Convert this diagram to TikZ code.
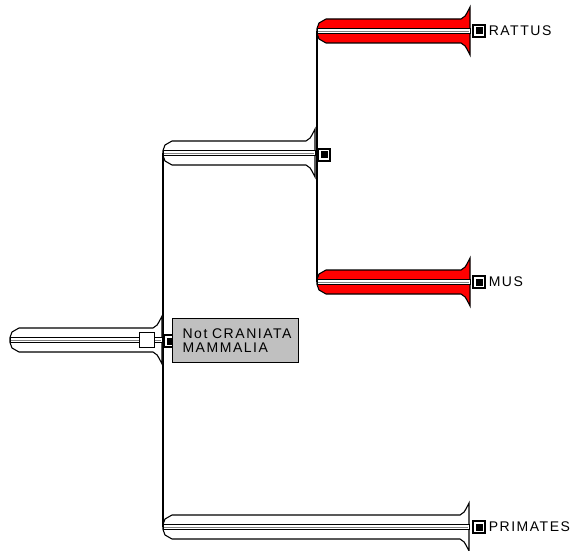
\documentclass[tikz,border=0pt]{standalone}
\usepackage{fontspec}
\setmainfont{Liberation Sans}
\usetikzlibrary{positioning}

\definecolor{taxonred}{RGB}{255,0,0}
\definecolor{panelgray}{RGB}{192,192,192}

% sword-like branch: left x, guard x, centre y, blade half height, fill
\newcommand\branch[5]{%
  \filldraw[blade, fill=#5] (#1,#3-2.5) -- (#1+2,#3-#4+4) -- (#1+9,#3-#4)
      -- (#2-9,#3-#4) .. controls (#2-5,#3-#4-2) .. (#2,#3-24)
      -- (#2,#3+24) .. controls (#2-5,#3+#4+2) .. (#2-9,#3+#4)
      -- (#1+9,#3+#4) -- (#1+2,#3+#4-4) -- (#1,#3+2.5) -- cycle;
  \filldraw[rail] (#1,#3-2.5) rectangle (#2,#3+2.5);
  \draw[gray, line width=0.8pt] (#1+1,#3) -- (#2-1,#3);
}

\begin{document}
\begin{tikzpicture}[
    x=1pt, y=-1pt,
    blade/.style={draw=black, line width=1.1pt, line join=miter},
    rail/.style={draw=black, fill=white, line width=1pt},
    link/.style={draw=black, line width=1.1pt},
    marker/.style={
        rectangle, draw=black, fill=white, line width=1.1pt,
        minimum size=12pt, inner sep=0pt,
        path picture={\fill[black] ([shift={(2.5pt,2.5pt)}]path picture bounding box.south west)
            rectangle ([shift={(-2.5pt,-2.5pt)}]path picture bounding box.north east);}
    },
    taxon/.style={font=\fontsize{14}{14}\selectfont\addfontfeatures{LetterSpace=11},
        anchor=west, inner sep=0pt},
    panel/.style={
        rectangle, draw=black, fill=panelgray, line width=1.1pt,
        minimum width=126pt, minimum height=44pt, anchor=north west,
        align=left, inner sep=0pt, text width=120pt,
        font=\fontsize{14}{14}\selectfont\addfontfeatures{LetterSpace=11}
    }
]
\useasboundingbox (0,0) rectangle (574,551);

% === branch tips ===
\coordinate (rattus)   at (317,31);
\coordinate (mus)      at (317,282);
\coordinate (inner)    at (163,153);
\coordinate (primates) at (163,527);

% === vertical links ===
\draw[link] (rattus) -- (mus);
\draw[link] (inner) -- (primates);

% === branches ===
\branch{317}{470}{31}{12}{taxonred}
\branch{317}{470}{282}{12}{taxonred}
\branch{163}{315}{153}{12}{white}
\branch{10}{162}{340}{12}{white}
\branch{163}{469}{527}{12}{white}

% === markers and labels ===
\node[marker] (rattusbox)   at (479,31)  {};
\node[marker] (musbox)      at (479,282) {};
\node[marker] (innerbox)    at (324,155) {};
\node[marker] (rootbox)     at (170,341) {};
\node[marker] (primatesbox) at (479,527) {};

\node[taxon, right=3pt of rattusbox]   (rattuslbl)   {RATTUS};
\node[taxon, right=3pt of musbox]      (muslbl)      {MUS};
\node[taxon, right=3pt of primatesbox] (primateslbl) {PRIMATES};

\node[rectangle, draw=black, fill=white, line width=1.1pt, minimum size=15pt,
      inner sep=0pt] (rootsq) at (147,340) {};

\node[panel] (rootlbl) at (172,318) {\hspace*{7pt}Not CRANIATA\\\hspace*{7pt}MAMMALIA};

\end{tikzpicture}
\end{document}
